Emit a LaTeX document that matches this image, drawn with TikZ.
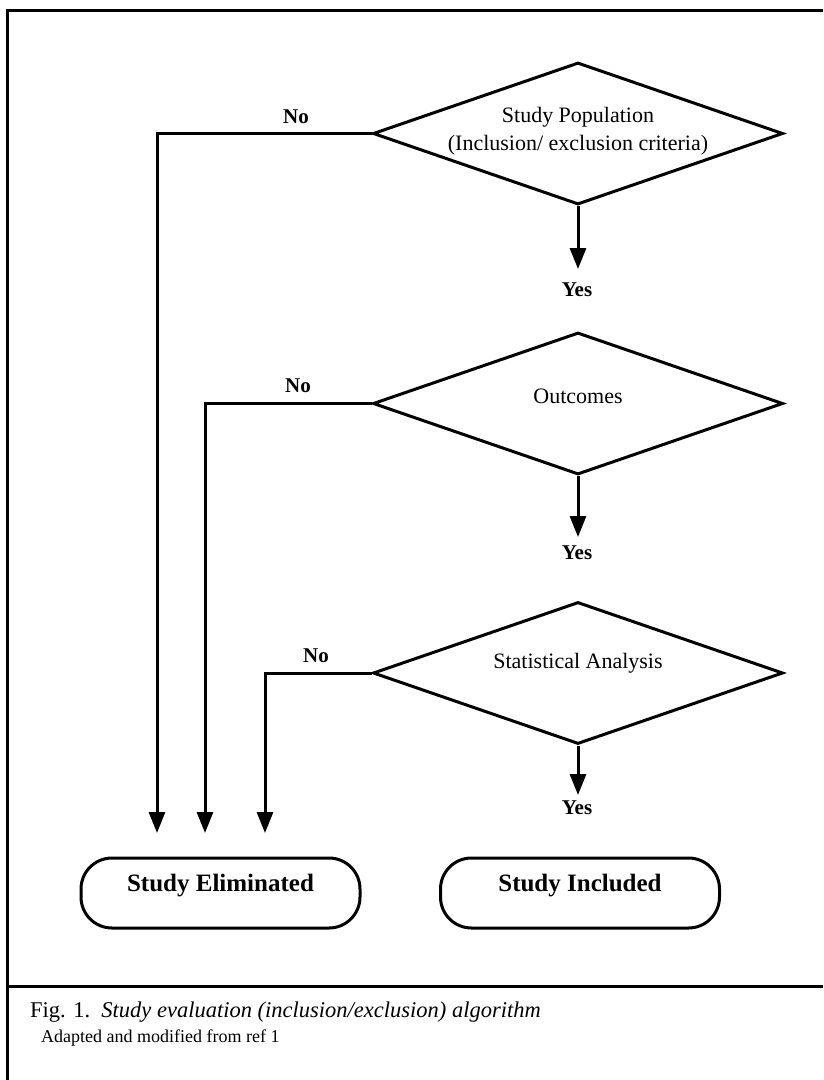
\documentclass[tikz,border=0pt]{standalone}
\usepackage{fontspec}
\setmainfont{Liberation Serif}
\usetikzlibrary{shapes.geometric,arrows.meta}
\begin{document}
\begin{tikzpicture}[x=1pt,y=-1pt,
  lw/.style={line width=3pt},
  dia/.style={diamond,draw,lw,minimum width=410pt,minimum height=142pt,inner sep=0pt},
  dtext/.style={align=center,font=\fontsize{22}{28}\selectfont,inner sep=0pt},
  lab/.style={font=\fontsize{21}{24}\selectfont\bfseries,inner sep=0pt},
  endbox/.style={draw,lw,rounded corners=31pt,minimum width=279pt,minimum height=70pt,
     font=\fontsize{25}{30}\selectfont\bfseries,text height=10pt,text depth=14pt,inner sep=0pt},
  conn/.style={lw,line join=miter},
  arr/.style={conn,-{Triangle[length=21pt,width=16pt]}},
  frameline/.style={line width=3pt}]
\useasboundingbox (0,0) rectangle (823,1080);
% frame
\draw[frameline] (7,1080) -- (7,10) -- (823,10);
\draw[frameline] (7,986) -- (823,986);
% diamonds
\node[dia] (d1) at (578,133.5) {};
\node[dtext] (t1) at (578,131) {Study Population\\(Inclusion/ exclusion criteria)};
\node[dia] (d2) at (578,403.5) {};
\node[dtext] (t2) at (578,396) {Outcomes};
\node[dia] (d3) at (578,673) {};
\node[dtext] (t3) at (578,663) {Statistical Analysis};
% yes labels and arrows
\node[lab] (y1) at (577,290) {Yes};
\node[lab] (y2) at (577,553) {Yes};
\node[lab] (y3) at (577,808) {Yes};
\coordinate (a1) at (578,269);
\coordinate (a2) at (578,537);
\coordinate (a3) at (578,795);
\draw[arr] (d1.south) -- (a1);
\draw[arr] (d2.south) -- (a2);
\draw[arr] (d3.south) -- (a3);
% end boxes
\node[endbox] (elim) at (220.5,893) {Study Eliminated};
\node[endbox] (incl) at (580,893) {Study Included};
% no branches
\coordinate (c1) at (157,133.5);
\coordinate (c2) at (205,403.5);
\coordinate (c3) at (265,673);
\coordinate (e1) at (157,833);
\coordinate (e2) at (205,833);
\coordinate (e3) at (265,833);
\draw[arr] (d1.west) -- (c1) -- (e1);
\draw[arr] (d2.west) -- (c2) -- (e2);
\draw[arr] (d3.west) -- (c3) -- (e3);
\node[lab] (n1) at (296,117) {No};
\node[lab] (n2) at (298,386) {No};
\node[lab] (n3) at (316,656) {No};
% caption
\node[anchor=west,inner sep=0pt,font=\fontsize{22.5}{26}\selectfont] (cap) at (30,1012)
  {Fig. 1.\ \ \textit{Study evaluation (inclusion/exclusion) algorithm}};
\node[anchor=west,inner sep=0pt,font=\fontsize{18}{22}\selectfont] (src) at (41,1038)
  {Adapted and modified from ref 1};
\end{tikzpicture}
\end{document}
